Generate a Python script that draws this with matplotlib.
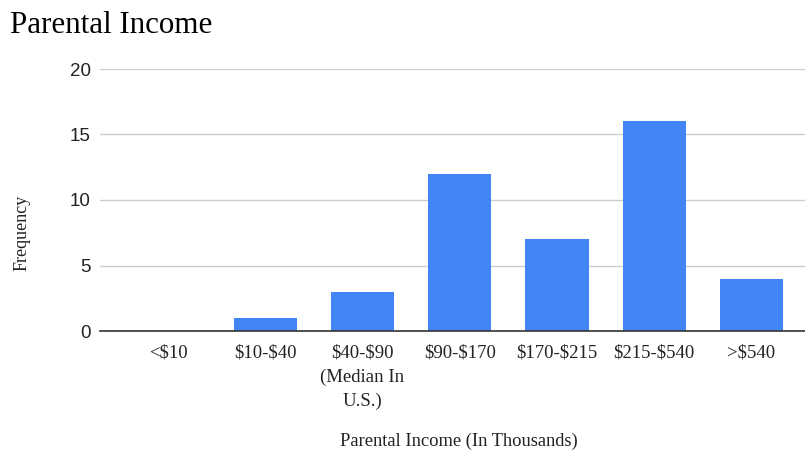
import matplotlib
matplotlib.use("Agg")
import matplotlib.pyplot as plt

plt.rcParams["text.parse_math"] = False

categories = ["<$10", "$10-$40", "$40-$90\n(Median In\nU.S.)", "$90-$170",
              "$170-$215", "$215-$540", ">$540"]
freq = [0, 1, 3, 12, 7, 16, 4]
yticks = [0, 5, 10, 15, 20]

fig = plt.figure(figsize=(8.05, 4.57), dpi=100)
ax = fig.add_axes([100 / 805, 1 - 331 / 457, 705 / 805, (331 - 69) / 457])

x = list(range(len(categories)))
ax.bar(x, freq, width=0.65, color="#4285F4", zorder=3)

ax.set_xlim(-0.7, 6.55)
ax.set_ylim(0, 20)
ax.set_yticks(yticks)
ax.set_yticklabels([str(t) for t in yticks], family="Liberation Sans",
                   fontsize=13.5, color="#222222")
ax.set_xticks(x)
ax.set_xticklabels(categories, family="Liberation Serif", fontsize=13.5,
                   color="#222222", linespacing=1.5)
ax.tick_params(axis="both", length=0)
ax.tick_params(axis="y", pad=6.5)
ax.tick_params(axis="x", pad=10)

ax.grid(axis="y", color="#cccccc", linewidth=1, zorder=0)
for s in ["top", "right", "left"]:
    ax.spines[s].set_visible(False)
ax.spines["bottom"].set_color("#333333")
ax.spines["bottom"].set_linewidth(1.2)
ax.spines["bottom"].set_zorder(4)

fig.text(459 / 805, 1 - 441 / 457, "Parental Income (In Thousands)",
         family="Liberation Serif", fontsize=13.3, color="#222222",
         ha="center", va="center")
fig.text(22 / 805, 1 - 233 / 457, "Frequency", family="Liberation Serif",
         fontsize=13, color="#222222", rotation=90, ha="center", va="center")
fig.text(10 / 805, 1 - 33 / 457, "Parental Income", family="Liberation Serif",
         fontsize=22.3, color="#000000", ha="left", va="baseline")

fig.savefig("out.png", dpi=100)
